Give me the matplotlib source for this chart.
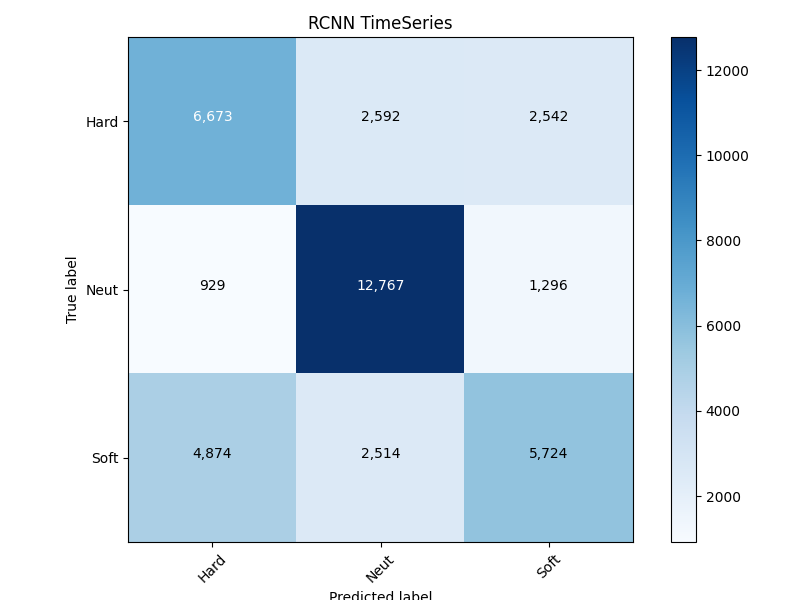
import matplotlib
matplotlib.use('Agg')
import matplotlib.pyplot as plt
import numpy as np
import itertools

# Confusion matrix values
classes = ['Hard', 'Neut', 'Soft']
row_hard = [6673, 2592, 2542]
row_neut = [929, 12767, 1296]
row_soft = [4874, 2514, 5724]

cm = np.array([row_hard, row_neut, row_soft])

plt.figure(figsize=(8, 6), dpi=100)
plt.imshow(cm, interpolation='nearest', cmap=plt.cm.Blues)
plt.title('RCNN TimeSeries')
plt.colorbar()
tick_marks = np.arange(len(classes))
plt.xticks(tick_marks, classes, rotation=45)
plt.yticks(tick_marks, classes)

thresh = cm.max() / 2.
for i, j in itertools.product(range(cm.shape[0]), range(cm.shape[1])):
    plt.text(j, i, format(cm[i, j], ','),
             horizontalalignment='center',
             color='white' if cm[i, j] > thresh else 'black')

plt.tight_layout()
plt.ylabel('True label')
plt.xlabel('Predicted label')
plt.savefig('out.png', dpi=100)
